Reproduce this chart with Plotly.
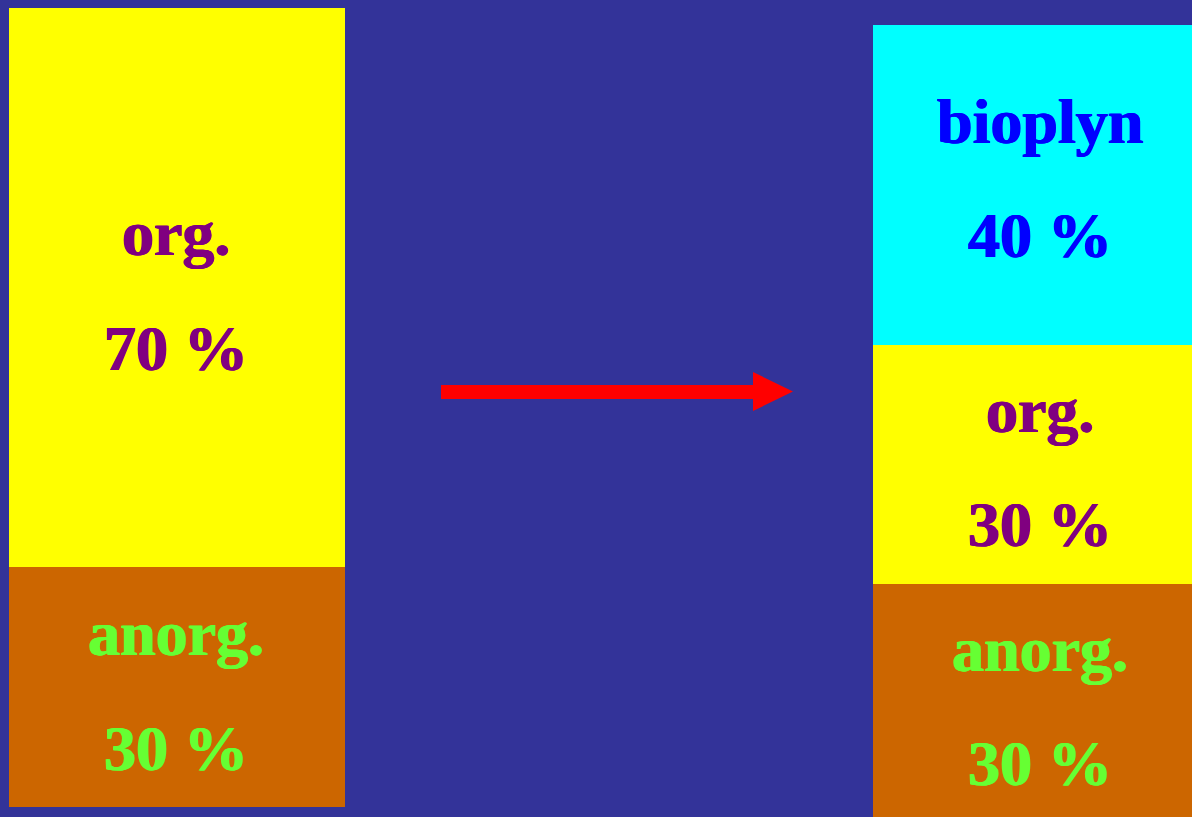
import plotly.graph_objects as go

# ---- data ----
stages = ["vstup", "výstup"]
left_labels = ["anorg.", "org."]
left_values = [30, 70]
right_labels = ["anorg.", "org.", "bioplyn"]
right_values = [30, 30, 40]

# ---- styles ----
BG = "#333399"
seg_colors = {"anorg.": "#CC6600", "org.": "#FFFF00", "bioplyn": "#00FFFF"}
txt_colors = {"anorg.": "#66FF33", "org.": "#800080", "bioplyn": "#0000FF"}
W, H = 1192, 817
FS = 64
FONT = "Liberation Serif"
BAR_W = 0.3889

fig = go.Figure()
for lab, val in zip(left_labels, left_values):
    fig.add_trace(go.Bar(x=[stages[0]], y=[val], name=lab, width=BAR_W,
                         marker=dict(color=seg_colors[lab], line=dict(width=0)),
                         xaxis="x", yaxis="y", showlegend=False))
for lab, val in zip(right_labels, right_values):
    fig.add_trace(go.Bar(x=[stages[1]], y=[val], name=lab, width=BAR_W,
                         marker=dict(color=seg_colors[lab], line=dict(width=0)),
                         xaxis="x", yaxis="y2", showlegend=False))

# text labels (pixel baselines -> paper coords)
def add_label(text, cx, baseline, color):
    center = baseline - 0.3375 * FS
    fig.add_annotation(x=cx / W, y=1 - center / H, xref="paper", yref="paper",
                       text=text, showarrow=False,
                       xanchor="center", yanchor="middle",
                       font=dict(family=FONT, size=FS, color=color, weight="bold",
                                 shadow=f"0.7px 0px 0px {color}, -0.7px 0px 0px {color}"))

left_base = {"org.": (255, 370), "anorg.": (655, 770)}
for lab, val in zip(left_labels, left_values):
    b1, b2 = left_base[lab]
    add_label(lab, 176, b1, txt_colors[lab])
    add_label(f"{val} %", 176, b2, txt_colors[lab])

right_base = {"bioplyn": (143, 257), "org.": (432, 546), "anorg.": (671, 785)}
for lab, val in zip(right_labels, right_values):
    b1, b2 = right_base[lab]
    add_label(lab, 1040, b1, txt_colors[lab])
    add_label(f"{val} %", 1040, b2, txt_colors[lab])

# arrow
pts = [(441, 385), (753, 385), (753, 372), (793, 391.5), (753, 411), (753, 399), (441, 399)]
path = "M " + " L ".join(f"{x / W:.5f},{1 - y / H:.5f}" for x, y in pts) + " Z"
fig.add_shape(type="path", path=path, xref="paper", yref="paper",
              fillcolor="#FF0000", line=dict(width=0))

fig.update_layout(
    width=W, height=H,
    margin=dict(l=0, r=0, t=0, b=0),
    paper_bgcolor=BG, plot_bgcolor=BG,
    barmode="stack", bargap=0,
    xaxis=dict(type="category", categoryorder="array", categoryarray=stages,
               range=[-0.2049, 1.1748], visible=False, fixedrange=True),
    yaxis=dict(range=[-1.2516, 101.0], visible=False, fixedrange=True),
    yaxis2=dict(range=[0.876, 103.13], overlaying="y", visible=False, fixedrange=True),
    showlegend=False,
)

fig.write_html("out.html")
